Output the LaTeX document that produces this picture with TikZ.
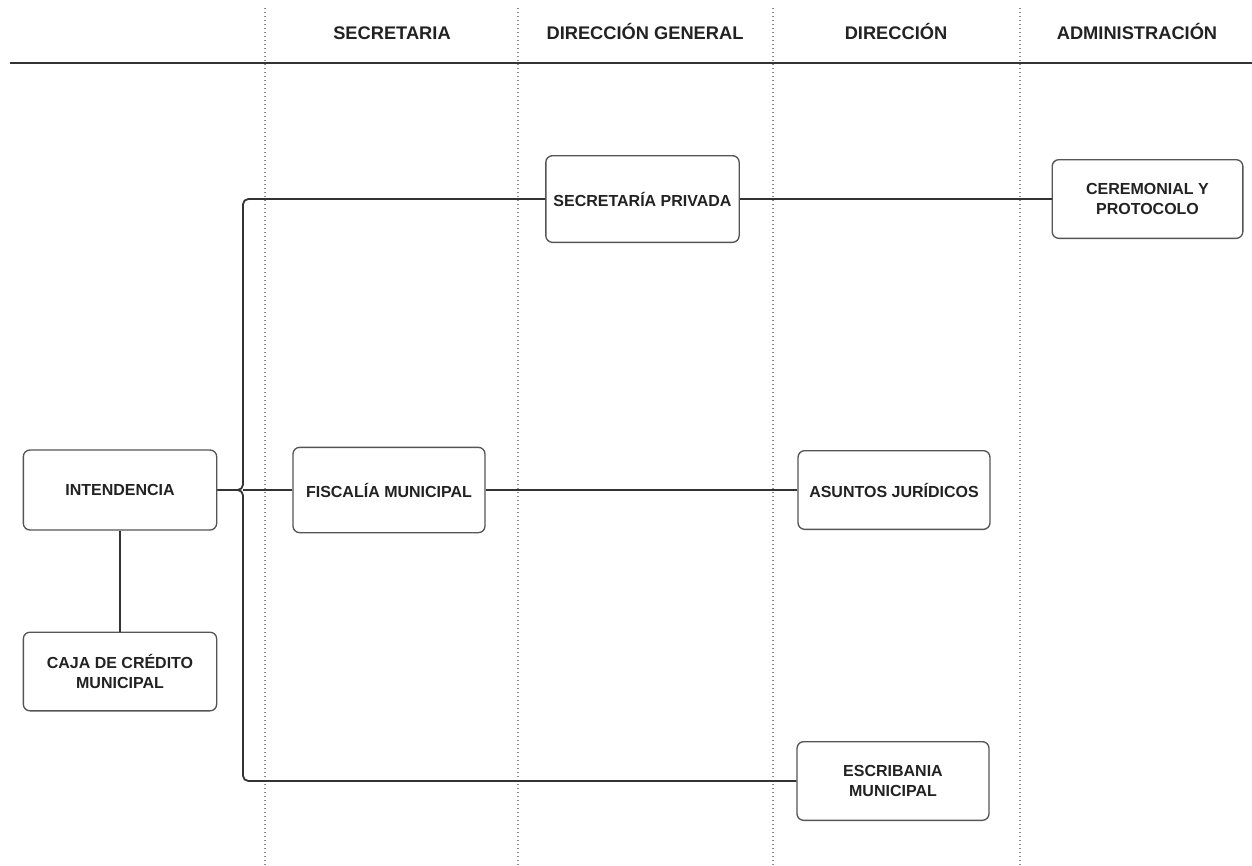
\documentclass[tikz,border=0pt]{standalone}
\usepackage{fontspec}
\setmainfont{Liberation Sans}
\definecolor{ink}{HTML}{222222}
\definecolor{edge}{HTML}{333333}
\definecolor{boxline}{HTML}{555555}
\definecolor{dotc}{HTML}{8A8A8A}
\begin{document}
\begin{tikzpicture}[x=0.75pt,y=-0.75pt,
  box/.style={draw=boxline,line width=1pt,rounded corners=5pt,fill=white,
    minimum width=144pt,minimum height=60pt,inner sep=2pt,align=center,
    text=ink,font=\fontsize{12}{14.3}\selectfont\bfseries},
  conn/.style={draw=edge,line width=1.35pt,rounded corners=4pt},
  lane/.style={draw=dotc,line width=0.8pt,dash pattern=on 0.8pt off 2.2pt},
  head/.style={anchor=base,text=ink,inner sep=0pt,font=\fontsize{13.7}{16}\selectfont\bfseries}]
\useasboundingbox (0,0) rectangle (1252,865);
% swimlane separators
\foreach \xx/\nm in {265/l1,518/l2,773/l3,1020/l4}{
  \coordinate (\nm t) at (\xx,8);
  \coordinate (\nm b) at (\xx,865);
  \draw[lane] (\nm t) -- (\nm b);
}
% header rule
\coordinate (hl) at (10,63);
\coordinate (hr) at (1252,63);
\draw[draw=edge,line width=1.2pt] (hl) -- (hr);
% headers
\node[head] (h1) at (392,39.5) {SECRETARIA};
\node[head] (h2) at (645,39.5) {DIRECCIÓN GENERAL};
\node[head] (h3) at (896,39.5) {DIRECCIÓN};
\node[head] (h4) at (1137,39.5) {ADMINISTRACIÓN};
% boxes
\node[box,minimum width=145pt] (int) at (120,490) {INTENDENCIA};
\node[box,minimum width=145pt,minimum height=59pt] (caja) at (120,671.5) {CAJA DE CRÉDITO\\MUNICIPAL};
\node[box,minimum width=144pt,minimum height=64pt] (fis) at (389,490) {FISCALÍA MUNICIPAL};
\node[box,minimum width=145pt,minimum height=65pt] (sp) at (642.5,199) {SECRETARÍA PRIVADA};
\node[box,minimum width=143pt,minimum height=59pt] (cer) at (1147.5,199) {CEREMONIAL Y\\PROTOCOLO};
\node[box,minimum width=144pt,minimum height=59pt] (asu) at (894,490) {ASUNTOS JURÍDICOS};
\node[box,minimum width=144pt,minimum height=59pt] (esc) at (893,781) {ESCRIBANIA\\MUNICIPAL};
% connectors
\coordinate (tr) at (243,490);
\draw[conn] (int.east) -- (tr) |- (sp.west);
\draw[conn] (int.east) -- (tr) |- (esc.west);
\draw[conn] (tr) -- (fis.west);
\draw[conn] (fis.east) -- (asu.west);
\draw[conn] (sp.east) -- (cer.west);
\draw[conn] (int.south) -- (caja.north);
\end{tikzpicture}
\end{document}
